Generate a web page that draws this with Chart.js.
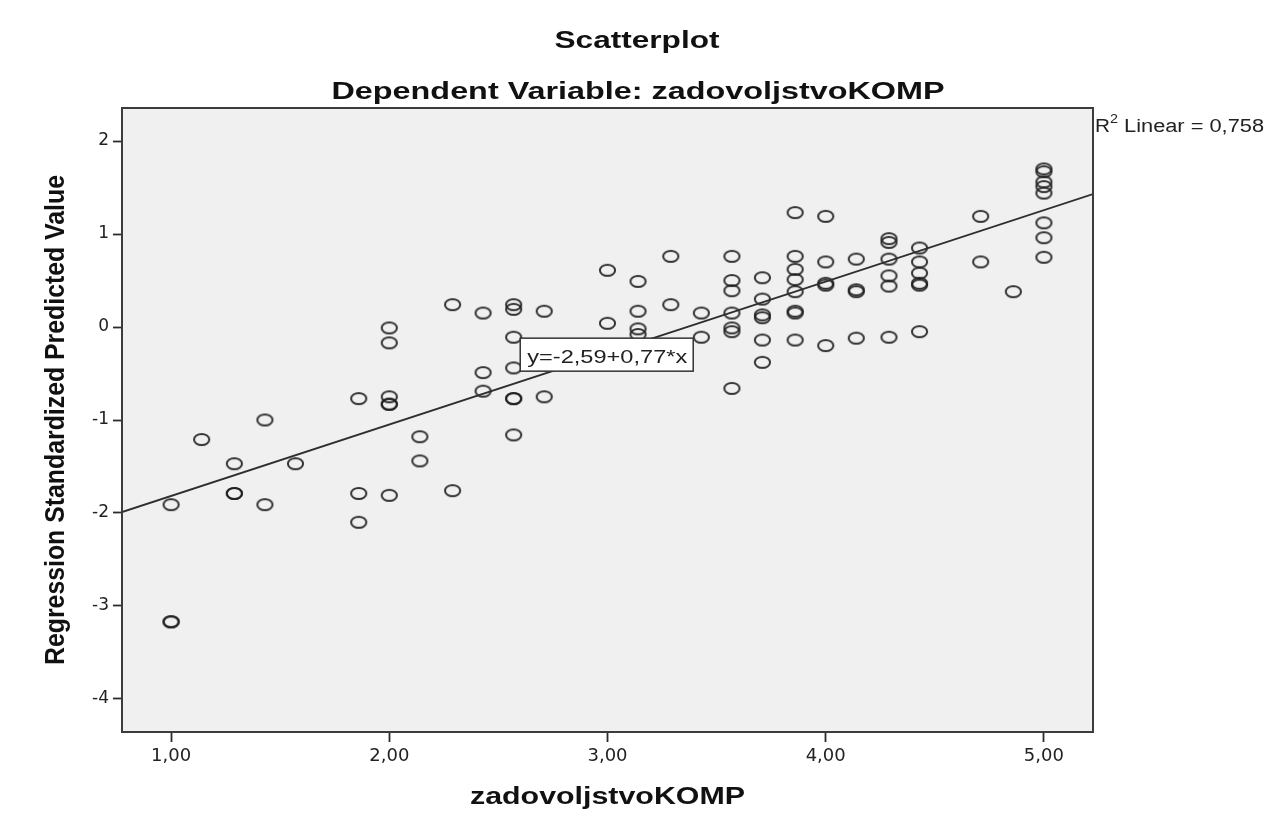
<!DOCTYPE html>
<html>
<head>
<meta charset="utf-8">
<title>Scatterplot</title>
<script src="https://cdn.jsdelivr.net/npm/chart.js@4"></script>
<style>
  html, body { margin: 0; padding: 0; background: #fff; }
  #chart { display: block; }
</style>
</head>
<body>
<canvas id="chart" width="1270" height="822"></canvas>
<script>
// values (x = zadovoljstvoKOMP, y = standardized predicted value)
const pointX = [
  1.00, 1.00, 1.00,
  1.14,
  1.29, 1.29, 1.29,
  1.43, 1.43,
  1.57,
  1.86, 1.86, 1.86,
  2.00, 2.00, 2.00, 2.00, 2.00, 2.00,
  2.14, 2.14,
  2.29, 2.29,
  2.43, 2.43, 2.43,
  2.57, 2.57, 2.57, 2.57, 2.57, 2.57, 2.57,
  2.71, 2.71,
  3.00, 3.00,
  3.14, 3.14, 3.14, 3.14,
  3.29, 3.29,
  3.43, 3.43,
  3.57, 3.57, 3.57, 3.57, 3.57, 3.57, 3.57,
  3.71, 3.71, 3.71, 3.71, 3.71, 3.71,
  3.86, 3.86, 3.86, 3.86, 3.86, 3.86, 3.86, 3.86,
  4.00, 4.00, 4.00, 4.00, 4.00,
  4.14, 4.14, 4.14, 4.14,
  4.29, 4.29, 4.29, 4.29, 4.29, 4.29,
  4.43, 4.43, 4.43, 4.43, 4.43, 4.43,
  4.71, 4.71,
  4.86,
  5.00, 5.00, 5.00, 5.00, 5.00, 5.00, 5.00, 5.00
];
const pointY = [
  -1.91, -3.17, -3.17,
  -1.21,
  -1.47, -1.79, -1.79,
  -1.00, -1.91,
  -1.47,
  -0.77, -1.79, -2.10,
  -0.01, -0.17, -0.75, -0.83, -0.83, -1.81,
  -1.18, -1.44,
  0.24, -1.76,
  0.15, -0.49, -0.69,
  0.24, 0.19, -0.11, -0.44, -0.77, -0.77, -1.16,
  0.17, -0.75,
  0.61, 0.04,
  0.49, 0.17, -0.02, -0.08,
  0.76, 0.24,
  0.15, -0.11,
  0.76, 0.50, 0.39, 0.15, -0.01, -0.05, -0.66,
  0.53, 0.30, 0.13, 0.10, -0.14, -0.38,
  1.23, 0.76, 0.62, 0.51, 0.38, 0.17, 0.15, -0.14,
  1.19, 0.70, 0.47, 0.45, -0.20,
  0.73, 0.40, 0.38, -0.12,
  0.95, 0.91, 0.73, 0.55, 0.44, -0.11,
  0.85, 0.70, 0.58, 0.47, 0.45, -0.05,
  1.19, 0.70,
  0.38,
  1.70, 1.67, 1.56, 1.51, 1.44, 1.12, 0.96, 0.75
];

// fit line end points (at the plot edges) and annotation texts
const fitLineX = [0.775, 5.225];
const fitLineY = [-1.99, 1.43];
const equationText = 'y=-2,59+0,77*x';
const equationAt = [2.60, -0.12];
const r2Text = ' Linear = 0,758';

const xTicks = [1, 2, 3, 4, 5];
const yTicks = [-4, -3, -2, -1, 0, 1, 2];
const xRange = [0.775, 5.225];
const yRange = [-4.355, 2.355];

const FONT = "'Liberation Sans', Arial, sans-serif";
const INK = '#2b2b2b';

// SPSS markers look like flattened rings in the reference
function ringImage(w, h, rx, ry, lw, color) {
  const c = document.createElement('canvas');
  c.width = w; c.height = h;
  const g = c.getContext('2d');
  g.strokeStyle = color;
  g.lineWidth = lw;
  g.beginPath();
  g.ellipse(w / 2, h / 2, rx, ry, 0, 0, Math.PI * 2);
  g.stroke();
  return c;
}

// text stretched horizontally to a given width (the reference image is widened)
function wideText(ctx, text, x, y, font, width, align) {
  ctx.save();
  ctx.font = font;
  ctx.textAlign = 'left';
  ctx.textBaseline = 'alphabetic';
  const sx = width / ctx.measureText(text).width;
  let left = x;
  if (align === 'center') {left = x - width / 2;}
  else if (align === 'right') {left = x - width;}
  ctx.translate(left, y);
  ctx.scale(sx, 1);
  ctx.fillText(text, 0, 0);
  ctx.restore();
}

const spssDecor = {
  id: 'spssDecor',
  beforeDraw(chart) {
    const { ctx, chartArea: a } = chart;
    ctx.save();
    ctx.fillStyle = '#ffffff';
    ctx.fillRect(0, 0, chart.width, chart.height);
    ctx.fillStyle = '#f0f0f0';
    ctx.fillRect(a.left, a.top, a.right - a.left, a.bottom - a.top);
    ctx.restore();
  },
  afterDatasetsDraw(chart) {
    const { ctx, chartArea: a, scales } = chart;
    ctx.save();

    // equation box sitting on the fit line
    const bx = scales.x.getPixelForValue(equationAt[0]);
    const by = scales.y.getPixelForValue(equationAt[1]);
    ctx.fillStyle = '#ffffff';
    ctx.fillRect(bx, by, 173, 33);
    ctx.strokeStyle = '#333';
    ctx.lineWidth = 1.5;
    ctx.strokeRect(bx, by, 173, 33);
    ctx.fillStyle = '#222';
    wideText(ctx, equationText, bx + 7, by + 25, '19px ' + FONT, 160, 'left');

    // plot frame
    ctx.strokeStyle = '#3c3c3c';
    ctx.lineWidth = 2;
    ctx.strokeRect(a.left, a.top, a.right - a.left, a.bottom - a.top);

    // R squared label outside top-right corner
    ctx.fillStyle = '#222';
    wideText(ctx, 'R', a.right + 2, 132, '18px ' + FONT, 15, 'left');
    wideText(ctx, '2', a.right + 17, 123, '12px ' + FONT, 8, 'left');
    wideText(ctx, r2Text, a.right + 25, 132, '18px ' + FONT, 146, 'left');

    // titles
    ctx.fillStyle = '#111';
    wideText(ctx, 'Scatterplot', 637, 48, 'bold 23px ' + FONT, 165, 'center');
    wideText(ctx, 'Dependent Variable: zadovoljstvoKOMP', 638, 99, 'bold 23px ' + FONT, 613, 'center');
    wideText(ctx, 'zadovoljstvoKOMP', (a.left + a.right) / 2, 804, 'bold 23px ' + FONT, 275, 'center');

    // rotated y axis title
    ctx.save();
    ctx.translate(64, (a.top + a.bottom) / 2);
    ctx.rotate(-Math.PI / 2);
    ctx.scale(1, 1.1);
    ctx.font = 'bold 25px ' + FONT;
    ctx.textAlign = 'center';
    ctx.textBaseline = 'alphabetic';
    const yt = 'Regression Standardized Predicted Value';
    const s = 490 / ctx.measureText(yt).width;
    ctx.scale(s, 1);
    ctx.fillText(yt, 0, 0);
    ctx.restore();

    ctx.restore();
  }
};

const scatterPoints = pointX.map((x, i) => ({ x, y: pointY[i] }));
const linePoints = fitLineX.map((x, i) => ({ x, y: fitLineY[i] }));

new Chart(document.getElementById('chart').getContext('2d'), {
  type: 'scatter',
  data: {
    datasets: [
      {
        type: 'line',
        label: 'Fit',
        data: linePoints,
        borderColor: '#2e2e2e',
        borderWidth: 1.8,
        pointRadius: 0,
        fill: false
      },
      {
        label: 'Cases',
        data: scatterPoints,
        pointStyle: ringImage(19, 15, 7.6, 5.6, 2, 'rgba(30,30,30,0.9)'),
        pointRadius: 8
      }
    ]
  },
  options: {
    responsive: false,
    animation: false,
    events: [],
    layout: { padding: { top: 108, right: 177, left: 0, bottom: 0 } },
    plugins: {
      legend: { display: false },
      tooltip: { enabled: false },
      title: { display: false }
    },
    scales: {
      x: {
        type: 'linear',
        min: xRange[0],
        max: xRange[1],
        afterBuildTicks: (sc) => { sc.ticks = xTicks.map(v => ({ value: v })); },
        afterFit: (sc) => { sc.height = 90; },
        border: { display: false },
        grid: { drawOnChartArea: false, drawTicks: true, tickLength: 10, tickColor: INK, tickWidth: 1.8 },
        ticks: {
          color: '#222',
          padding: 4,
          font: { family: "'DejaVu Sans', sans-serif", size: 18 },
          callback: (v) => Number(v).toFixed(2).replace('.', ',')
        }
      },
      y: {
        type: 'linear',
        min: yRange[0],
        max: yRange[1],
        afterBuildTicks: (sc) => { sc.ticks = yTicks.map(v => ({ value: v })); },
        afterFit: (sc) => { sc.width = 122; },
        border: { display: false },
        grid: { drawOnChartArea: false, drawTicks: true, tickLength: 9, tickColor: INK, tickWidth: 1.8 },
        ticks: {
          color: '#222',
          padding: 4,
          font: { family: "'DejaVu Sans', sans-serif", size: 17 },
          callback: (v) => String(v)
        }
      }
    }
  },
  plugins: [spssDecor]
});
</script>
</body>
</html>
